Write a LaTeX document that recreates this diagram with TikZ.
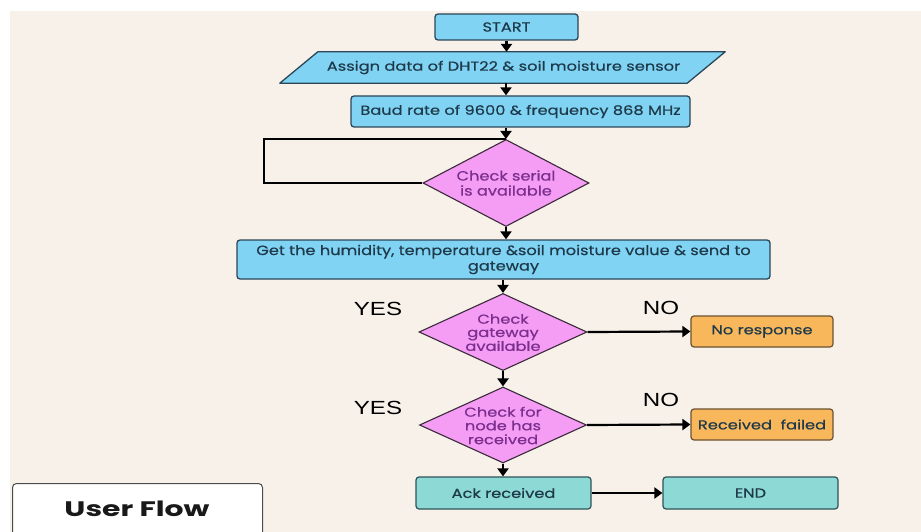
\documentclass[tikz,border=0pt]{standalone}
\usepackage{fontspec}
\setmainfont{Poppins}
\newfontfamily\boxfont{Poppins}[FakeStretch=1.25,FakeBold=0.5]
\newfontfamily\dfont{Poppins}[FakeStretch=1.2,FakeBold=0.5]
\newfontfamily\yesfont{Liberation Sans}[FakeStretch=1.27]
\newfontfamily\uffont{Poppins}[FakeStretch=1.42]
\usetikzlibrary{shapes.geometric,arrows.meta,calc}
\newcommand{\dtxt}[1]{\raisebox{-0.42em}[0pt][0pt]{\makebox[0pt][c]{\begin{tabular}{@{}c@{}}#1\end{tabular}}}}
\definecolor{bgbeige}{HTML}{F7F1EA}
\definecolor{boxblue}{HTML}{80D3F3}
\definecolor{blueline}{HTML}{2B4657}
\definecolor{bluetext}{HTML}{1E3A4A}
\definecolor{dfill}{HTML}{F59CF4}
\definecolor{dline}{HTML}{3A2A3A}
\definecolor{dtext}{HTML}{7A2E8E}
\definecolor{orfill}{HTML}{F8B75B}
\definecolor{orline}{HTML}{6B5230}
\definecolor{tealfill}{HTML}{8DD9D6}
\definecolor{tealline}{HTML}{2E5457}
\tikzset{
  bluebox/.style={draw=blueline, line width=1.3pt, fill=boxblue, rounded corners=3pt,
    text=bluetext, font=\boxfont\fontsize{13}{15}\selectfont, inner sep=0pt},
  decision/.style={diamond, draw=dline, line width=1.1pt, fill=dfill, text=dtext,
    inner sep=0pt, font=\dfont\fontsize{13.5}{15}\selectfont},
  orbox/.style={draw=orline, line width=1.2pt, fill=orfill, rounded corners=3pt,
    text=bluetext, font=\boxfont\fontsize{13}{15}\selectfont, minimum width=142pt, minimum height=31pt, inner sep=0pt},
  tealbox/.style={draw=tealline, line width=1.2pt, fill=tealfill, rounded corners=3pt,
    text=bluetext, font=\boxfont\fontsize{13}{15}\selectfont, minimum width=175pt, minimum height=32pt, inner sep=0pt},
  arr/.style={draw=black, line width=2.2pt, -{Triangle[length=8pt,width=11pt]}},
  loopline/.style={draw=black, line width=2.4pt},
  yesno/.style={font=\yesfont\fontsize{19}{20}\selectfont, text=black, inner sep=0pt},
}
\begin{document}
\begin{tikzpicture}[x=1pt,y=-1pt]
\useasboundingbox (0,0) rectangle (921,532);
\fill[white] (0,0) rectangle (921,532);
\fill[bgbeige] (10,11) rectangle (921,532);

% nodes
\node[bluebox, minimum width=143pt, minimum height=26pt] (start) at (506.5,27) {START};
\node[minimum width=445pt, minimum height=31pt, inner sep=0pt] (assign) at (502.5,67.5) {};
\fill[boxblue] ([xshift=38pt]assign.north west) -- (assign.north east)
  -- ([xshift=-38pt]assign.south east) -- (assign.south west) -- cycle;
\draw[blueline, line width=1.3pt, line join=round] ([xshift=38pt]assign.north west) -- (assign.north east)
  -- ([xshift=-38pt]assign.south east) -- (assign.south west) -- cycle;
\node[text=bluetext, font=\boxfont\fontsize{13}{15}\selectfont] (assigntext) at (503.5,67.5) {Assign data of DHT22 \& soil moisture sensor};
\node[bluebox, minimum width=339pt, minimum height=31pt] (baud) at (520.5,111.5) {Baud rate of 9600 \& frequency 868 MHz};
\node[decision, minimum width=166pt, minimum height=87pt] (d1) at (506,183) {\dtxt{Check serial\\is available}};
\node[bluebox, minimum width=533pt, minimum height=39pt, align=center,
  font=\dfont\fontsize{13.5}{15.5}\selectfont] (get) at (503.5,259.5)
  {Get the humidity, temperature \&soil moisture value \& send to\\gateway};
\node[decision, minimum width=168pt, minimum height=77pt, font=\boxfont\fontsize{13}{13.3}\selectfont] (d2) at (503,332) {\dtxt{Check\\gateway\\available}};
\node[decision, minimum width=167pt, minimum height=76pt, font=\boxfont\fontsize{13}{13.3}\selectfont] (d3) at (503,425) {\dtxt{Check for\\node has\\received}};
\node[orbox] (nores) at (762,331.5) {No response};
\node[orbox] (recf) at (762,424.5) {Received~~failed};
\node[tealbox] (ack) at (503.5,493) {Ack received};
\node[tealbox] (end) at (750.5,493) {END};

\node[yesno] (yes1) at (378,309) {YES};
\node[yesno] (yes2) at (378,408) {YES};
\node[yesno] (no1) at (661,308) {NO};
\node[yesno] (no2) at (661,400) {NO};

% user flow box
\node[draw=black!70, line width=1pt, fill=white, rounded corners=4pt,
  minimum width=250pt, minimum height=70pt, anchor=north west,
  inner sep=0pt] (uf) at (12,483) {};
\node[font=\uffont\fontsize{21}{24}\selectfont\bfseries, text=black!90] (uftext) at (137,509) {User Flow};

% connectors
\coordinate (loopc) at (264,139);
\draw[loopline] (d1.west) -| (loopc) -- (loopc -| d1.north);
\draw[arr] (start.south) -- (start.south |- assign.north);
\draw[arr] (assign.south -| d1.north) -- (baud.north -| d1.north);
\draw[arr] (baud.south -| d1.north) -- (d1.north);
\draw[arr] (d1.south) -- (d1.south |- get.north);
\draw[arr] (get.south -| d2.north) -- (d2.north);
\draw[arr] (d2.south) -- (d3.north);
\draw[arr] (d3.south) -- (d3.south |- ack.north);
\draw[arr] (d2.east) -- (nores.west);
\draw[arr] (d3.east) -- (recf.west);
\draw[arr] (ack.east) -- (end.west);
\end{tikzpicture}
\end{document}
